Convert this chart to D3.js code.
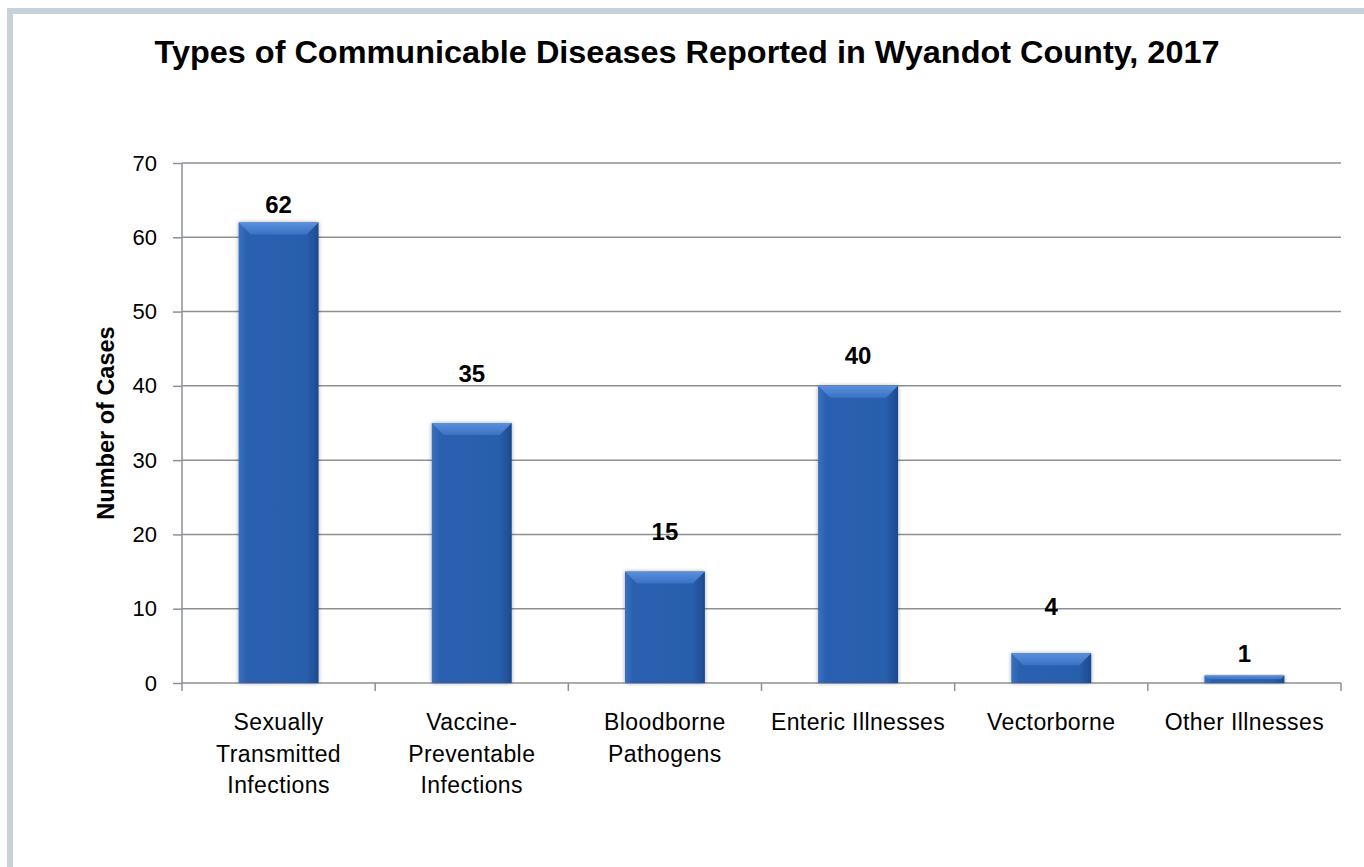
<!DOCTYPE html>
<html><head><meta charset="utf-8">
<script src="https://cdn.jsdelivr.net/npm/d3@7"></script>
<style>body{margin:0;background:#fff}svg{display:block}</style>
</head><body>
<script>
const categories = [["Sexually","Transmitted","Infections"],["Vaccine-","Preventable","Infections"],["Bloodborne","Pathogens"],["Enteric Illnesses"],["Vectorborne"],["Other Illnesses"]];
const values = [62, 35, 15, 40, 4, 1];
const labelAt = [63.3, 40.5, 19.2, 42.9, 9.2, 2.8];
const yTicks = [0,10,20,30,40,50,60,70];
const titleText = "Types of Communicable Diseases Reported in Wyandot County, 2017";
const yTitle = "Number of Cases";

const W = 1364, H = 867;
const svg = d3.select("body").append("svg").attr("width", W).attr("height", H);
const font = "'Liberation Sans', Arial, sans-serif";

svg.append("path").attr("d", `M10,${H} L10,11 L${W},11`).attr("fill","none")
  .attr("stroke","#c6d1d8").attr("stroke-width",6);

const defs = svg.append("defs");
const g1 = defs.append("linearGradient").attr("id","barG").attr("x1","0").attr("x2","1").attr("y1","0").attr("y2","0");
[[0,"#3a70c0"],[0.1,"#2b61b0"],[0.85,"#285eac"],[1,"#1d4a8e"]].forEach(s=>g1.append("stop").attr("offset",s[0]).attr("stop-color",s[1]));
const g2 = defs.append("linearGradient").attr("id","bevG").attr("x1","0").attr("x2","0").attr("y1","0").attr("y2","1");
[[0,"#5a90dc"],[1,"#3a72c4"]].forEach(s=>g2.append("stop").attr("offset",s[0]).attr("stop-color",s[1]));
const f = defs.append("filter").attr("id","sh").attr("x","-20%").attr("y","-20%").attr("width","140%").attr("height","140%");
f.append("feDropShadow").attr("dx",0).attr("dy",0).attr("stdDeviation",2).attr("flood-color","#000").attr("flood-opacity",0.35);

const x = d3.scaleBand().domain(d3.range(categories.length)).range([182, 1341]).paddingInner(0.586).paddingOuter(0.293);
const xb = d3.scaleBand().domain(d3.range(categories.length)).range([182, 1341]);
const y = d3.scaleLinear().domain([0,70]).range([683,163]);

svg.append("text").attr("x", 687).attr("y", 63).attr("text-anchor","middle")
  .attr("font-family", font).attr("font-weight","bold").attr("font-size", 32)
  .attr("textLength", 1065).attr("lengthAdjust","spacingAndGlyphs").text(titleText);

// grid
svg.append("g").selectAll("line").data(yTicks.filter(d=>d>0)).join("line")
  .attr("x1",182).attr("x2",1341).attr("y1",d=>y(d)).attr("y2",d=>y(d))
  .attr("stroke","#8c9097").attr("stroke-width",1.5);

// y axis
const ya = svg.append("g").attr("transform","translate(182,0)")
  .call(d3.axisLeft(y).tickValues(yTicks).tickSize(9).tickPadding(16));
ya.selectAll("path,line").attr("stroke","#8c9097").attr("stroke-width",1.5);
ya.select(".domain").attr("d", `M0,${y(70)}V${y(0)}`);
ya.selectAll("text").attr("font-family",font).attr("font-size",22).attr("fill","#000");

svg.append("text").attr("transform",`translate(114,423) rotate(-90)`).attr("text-anchor","middle")
  .attr("font-family",font).attr("font-weight","bold").attr("font-size",23.5).text(yTitle);

// x axis
svg.append("line").attr("x1",182).attr("x2",1341).attr("y1",y(0)).attr("y2",y(0)).attr("stroke","#8c9097").attr("stroke-width",1.5);
svg.append("g").selectAll("line").data(d3.range(categories.length+1)).join("line")
  .attr("x1",d=> d<categories.length ? xb(d) : 1341).attr("x2",d=> d<categories.length ? xb(d) : 1341)
  .attr("y1",y(0)).attr("y2",y(0)+8).attr("stroke","#8c9097").attr("stroke-width",1.5);

const xl = svg.append("g").selectAll("text").data(categories).join("text")
  .attr("x",(d,i)=>xb(i)+xb.bandwidth()/2).attr("y",730).attr("text-anchor","middle")
  .attr("font-family",font).attr("font-size",23).attr("fill","#000").attr("letter-spacing",0.4);
xl.selectAll("tspan").data(d=>d).join("tspan").attr("x",function(){return this.parentNode.getAttribute("x");})
  .attr("dy",(d,i)=>i===0?0:31.5).text(d=>d);

// bars
const bars = svg.append("g").selectAll("g").data(values).join("g");
bars.append("rect").attr("x",(d,i)=>x(i)).attr("width",x.bandwidth()).attr("y",d=>y(d)).attr("height",d=>y(0)-y(d))
  .attr("fill","url(#barG)").attr("filter","url(#sh)");
bars.append("path").attr("d",(d,i)=>{
  const x0=x(i), x1=x(i)+x.bandwidth(), t=y(d), b=Math.min(12,(y(0)-y(d))/2);
  return `M${x0},${t}L${x1},${t}L${x1-b},${t+b}L${x0+b},${t+b}Z`;
}).attr("fill","url(#bevG)");

svg.append("g").selectAll("text").data(values).join("text")
  .attr("x",(d,i)=>x(i)+x.bandwidth()/2).attr("y",(d,i)=>y(labelAt[i])).attr("text-anchor","middle")
  .attr("font-family",font).attr("font-weight","bold").attr("font-size",24).text(d=>d);
</script>
</body></html>
